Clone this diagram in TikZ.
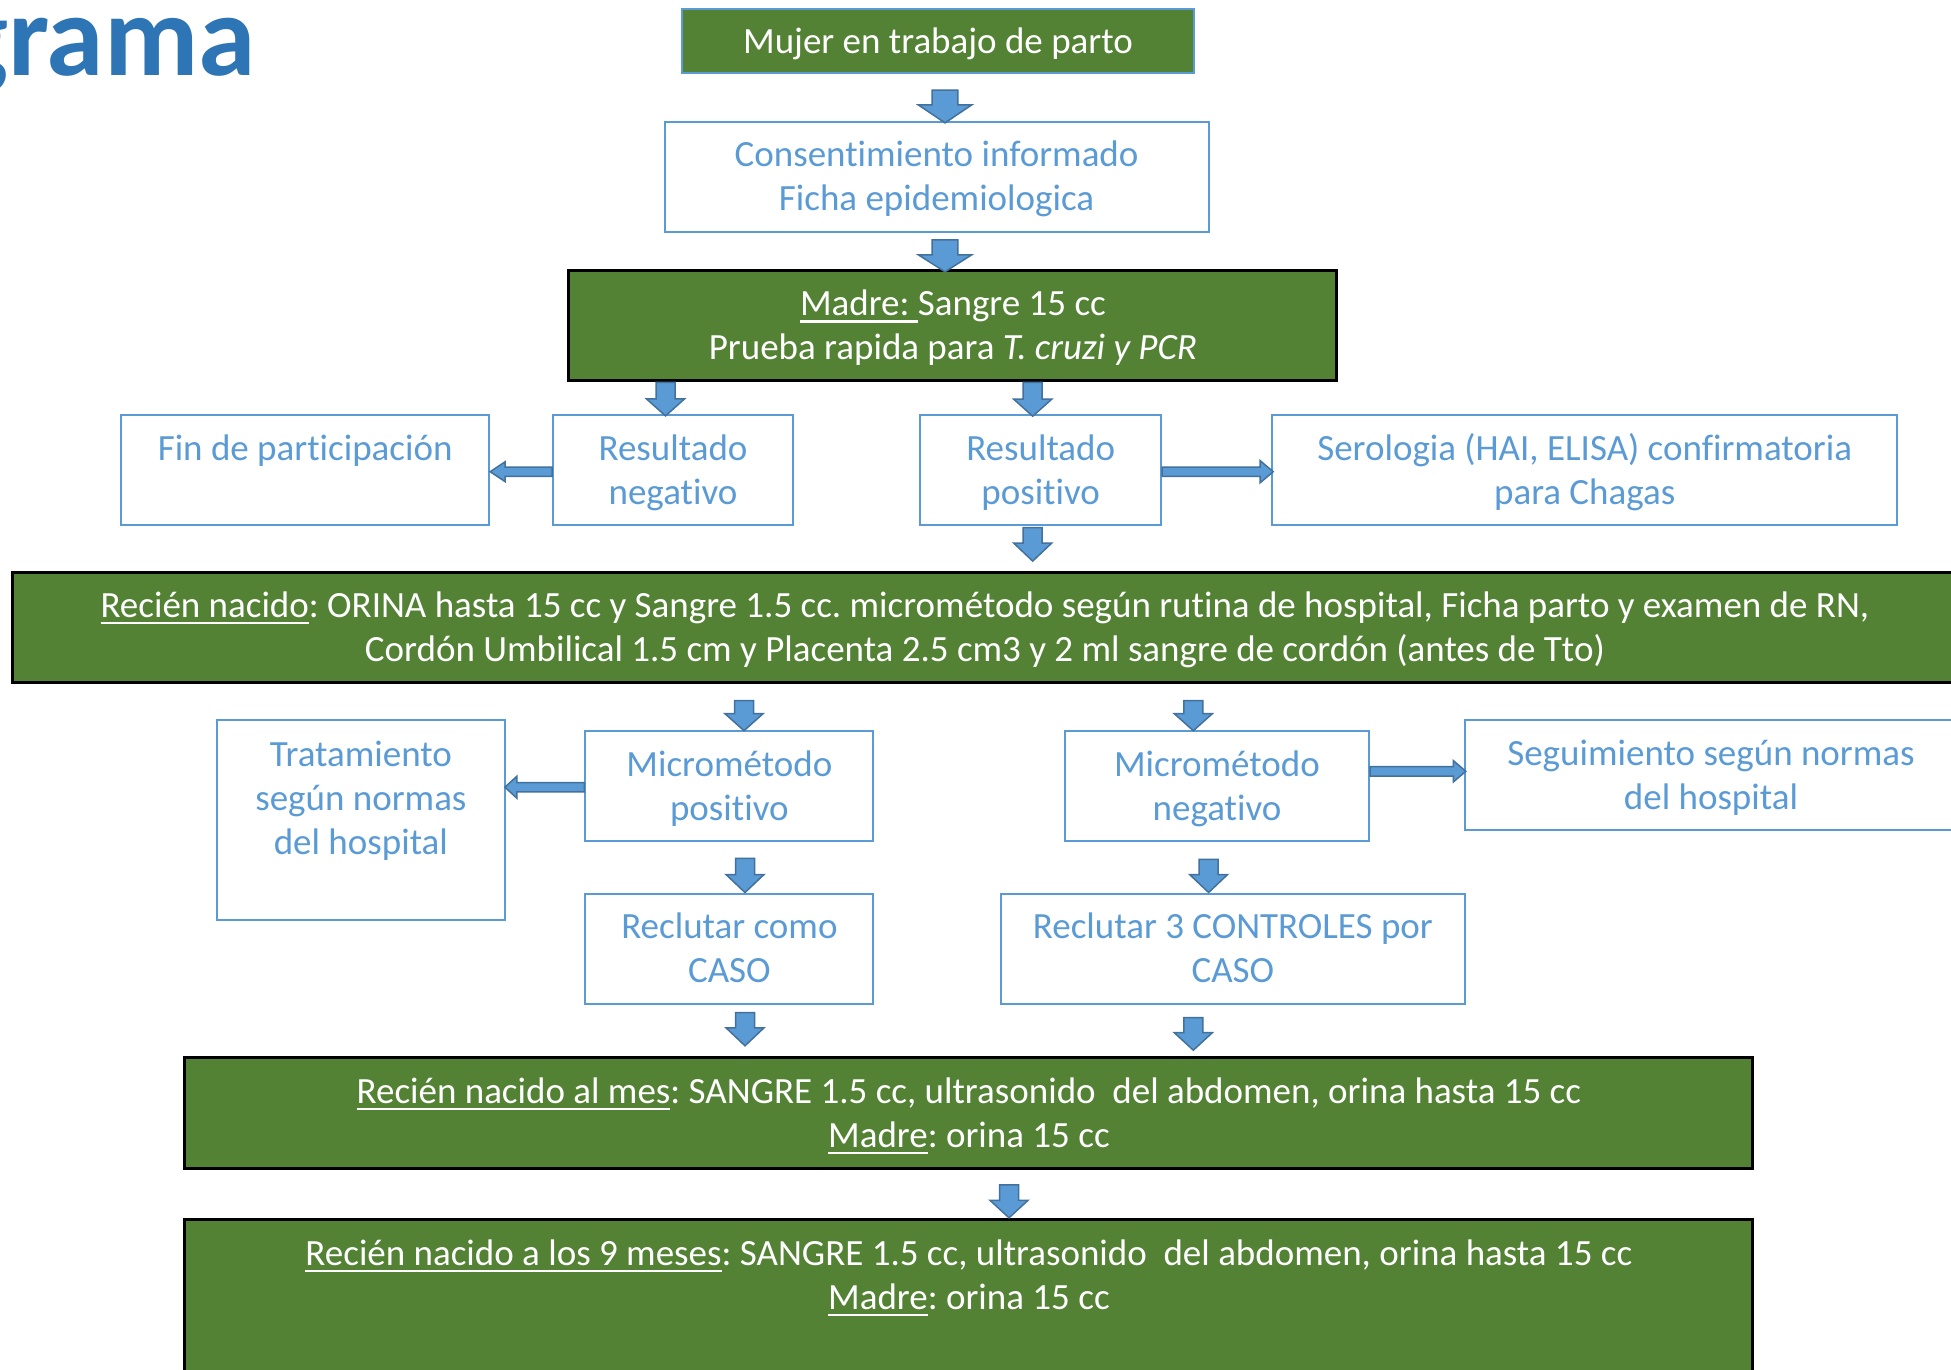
\documentclass[tikz,border=0pt]{standalone}
\usepackage{fontspec}
\setmainfont[Ligatures={NoCommon}]{Carlito}
\usetikzlibrary{calc}
\definecolor{bluetx}{HTML}{5B9BD5}
\definecolor{gfill}{HTML}{548235}
\definecolor{arrowedge}{HTML}{41719C}
\definecolor{titleblue}{HTML}{2E75B6}
\frenchspacing
\newcommand\ms{\rule[-10pt]{0pt}{44pt}}
\newcommand\ul[1]{\setbox0\hbox{#1}\rlap{\rule[-7pt]{\wd0}{2.5pt}}\box0}
\newcommand\barrow[5]{%
  \coordinate (ba-s) at #1;
  \coordinate (ba-e) at #2;
  \coordinate (ba-h) at ($(ba-e)!#5!(ba-s)$);
  \filldraw[arrowbody] ($(ba-s)!#3!90:(ba-e)$) -- ($(ba-h)!#3!-90:(ba-s)$) -- ($(ba-h)!#4!-90:(ba-s)$) -- (ba-e) -- ($(ba-h)!#4!90:(ba-s)$) -- ($(ba-h)!#3!90:(ba-s)$) -- ($(ba-s)!#3!-90:(ba-e)$) -- cycle;}
\begin{document}
\begin{tikzpicture}[x=1pt,y=-1pt,
  boxbase/.style={rectangle, inner sep=0pt, align=center, font=\fontsize{37}{44}\selectfont},
  bbox/.style={boxbase, draw=bluetx, line width=2pt, fill=white, text=bluetx},
  gbox/.style={boxbase, draw=black, line width=3pt, fill=gfill, text=white},
  arrowbody/.style={fill=bluetx, draw=arrowedge, line width=1.5pt, line join=miter},
]
\useasboundingbox (0,0) rectangle (1951,1370);
\fill[white] (0,0) rectangle (1951,1370);

\node[anchor=base west, inner sep=0pt, text=titleblue, font=\fontsize{116}{116}\selectfont\bfseries] (title) at (-47,76) {grama};

\node[gbox, draw=bluetx, line width=2pt, minimum width=512, minimum height=64] (mujer) at (938,41.2) {\ms Mujer en trabajo de parto};
\node[bbox, minimum width=544, minimum height=110] (consent) at (936.6,176.9) {\ms Consentimiento informado\\\ms Ficha epidemiologica};
\node[gbox, minimum width=768, minimum height=110] (madre) at (952.9,325.9) {\ms\ul{Madre: }Sangre 15 cc\\\ms Prueba rapida para \textit{T. cruzi y PCR}};
\node[bbox, minimum width=368, minimum height=110] (fin) at (305.2,470.2) {\ms Fin de participación\\\ms};
\node[bbox, minimum width=240, minimum height=110] (resneg) at (673,470.2) {\ms Resultado\\\ms negativo};
\node[bbox, minimum width=241, minimum height=110] (respos) at (1040.7,470.2) {\ms Resultado\\\ms positivo};
\node[bbox, minimum width=625, minimum height=110] (sero) at (1584.7,470.2) {\ms Serologia (HAI, ELISA) confirmatoria\\\ms para Chagas};
\node[gbox, minimum width=1944, minimum height=110] (rn) at (984.9,627.2) {\ms\ul{Recién nacido}: ORINA hasta 15 cc y Sangre 1.5 cc. micrométodo según rutina de hospital, Ficha parto y examen de RN,\\\ms Cordón Umbilical 1.5 cm y Placenta 2.5 cm3 y 2 ml sangre de cordón (antes de Tto)};
\node[bbox, minimum width=288, minimum height=110] (micpos) at (729.4,786) {\ms Micrométodo\\\ms positivo};
\node[bbox, minimum width=288, minimum height=200] (trat) at (360.9,820.2) {\ms Tratamiento\\\ms según normas\\\ms del hospital\\\ms};
\node[bbox, minimum width=304, minimum height=110] (micneg) at (1217,786) {\ms Micrométodo\\\ms negativo};
\node[bbox, minimum width=493, minimum height=110] (seg) at (1711,775) {\ms Seguimiento según normas\\\ms del hospital};
\node[bbox, minimum width=288, minimum height=110] (caso) at (729.4,948.5) {\ms Reclutar como\\\ms CASO};
\node[bbox, minimum width=464, minimum height=110] (ctrl) at (1232.9,948.5) {\ms Reclutar 3 CONTROLES por\\\ms CASO};
\node[gbox, minimum width=1568, minimum height=110.6] (mes) at (968.9,1113) {\ms\ul{Recién nacido al mes}: SANGRE 1.5 cc, ultrasonido\ \ del abdomen, orina hasta 15 cc\\\ms\ul{Madre}: orina 15 cc};
\node[gbox, minimum width=1568, minimum height=200] (nueve) at (968.9,1319.3) {\ms\ul{Recién nacido a los 9 meses}: SANGRE 1.5 cc, ultrasonido\ \ del abdomen, orina hasta 15 cc\\\ms\ul{Madre}: orina 15 cc\\\ms\\\ms};

% vertical block arrows
\barrow{([xshift=7pt,yshift=-16pt]mujer.south)}{([xshift=8.4pt,yshift=-2pt]consent.north)}{12.8pt}{26.7pt}{18pt}
\barrow{([xshift=8.4pt,yshift=-7pt]consent.south)}{([xshift=-7.9pt,yshift=-2.4pt]madre.north)}{12.8pt}{26.7pt}{17pt}
\barrow{([xshift=-287.4pt]madre.south)}{([xshift=-7.5pt,yshift=-1.7pt]resneg.north)}{9.5pt}{19pt}{17pt}
\barrow{([xshift=79.8pt]madre.south)}{([xshift=-8pt,yshift=-2pt]respos.north)}{9.5pt}{19pt}{17pt}
\barrow{([xshift=-8pt,yshift=-1.3pt]respos.south)}{([xshift=47.8pt,yshift=9.6pt]rn.north)}{9.5pt}{19pt}{18pt}
\barrow{([xshift=-240.9pt,yshift=-17pt]rn.south)}{([xshift=14.6pt,yshift=-0.7pt]micpos.north)}{9.5pt}{19pt}{17pt}
\barrow{([xshift=208.4pt,yshift=-17pt]rn.south)}{([xshift=-23.7pt,yshift=-0.7pt]micneg.north)}{9.5pt}{19pt}{17pt}
\barrow{([xshift=15.6pt,yshift=-16.3pt]micpos.south)}{([xshift=15.6pt]caso.north)}{9.5pt}{19pt}{18pt}
\barrow{([xshift=-8.4pt,yshift=-17.3pt]micneg.south)}{([xshift=-24.3pt]ctrl.north)}{9.5pt}{19pt}{18pt}
\barrow{([xshift=15.6pt,yshift=-8pt]caso.south)}{([xshift=-223.9pt,yshift=10.4pt]mes.north)}{9.5pt}{19pt}{18pt}
\barrow{([xshift=-39.6pt,yshift=-13pt]ctrl.south)}{([xshift=224.4pt,yshift=6pt]mes.north)}{9.5pt}{19pt}{17.5pt}
\barrow{([xshift=40.1pt,yshift=-15pt]mes.south)}{([xshift=40.1pt]nueve.north)}{9.5pt}{19pt}{17.5pt}

% horizontal block arrows
\barrow{([yshift=-1.5pt]resneg.west)}{([yshift=-1.5pt]fin.east)}{4.7pt}{10pt}{15pt}
\barrow{([yshift=-1.5pt]respos.east)}{([xshift=2pt,yshift=-1.5pt]sero.west)}{4.7pt}{11pt}{13pt}
\barrow{([yshift=-1.2pt]micpos.west)}{([xshift=-1pt,yshift=33pt]trat.east)}{4.7pt}{11pt}{12pt}
\barrow{([yshift=14.7pt]micneg.east)}{([xshift=2.3pt,yshift=3.7pt]seg.west)}{4.7pt}{10.7pt}{12.5pt}
\end{tikzpicture}
\end{document}
